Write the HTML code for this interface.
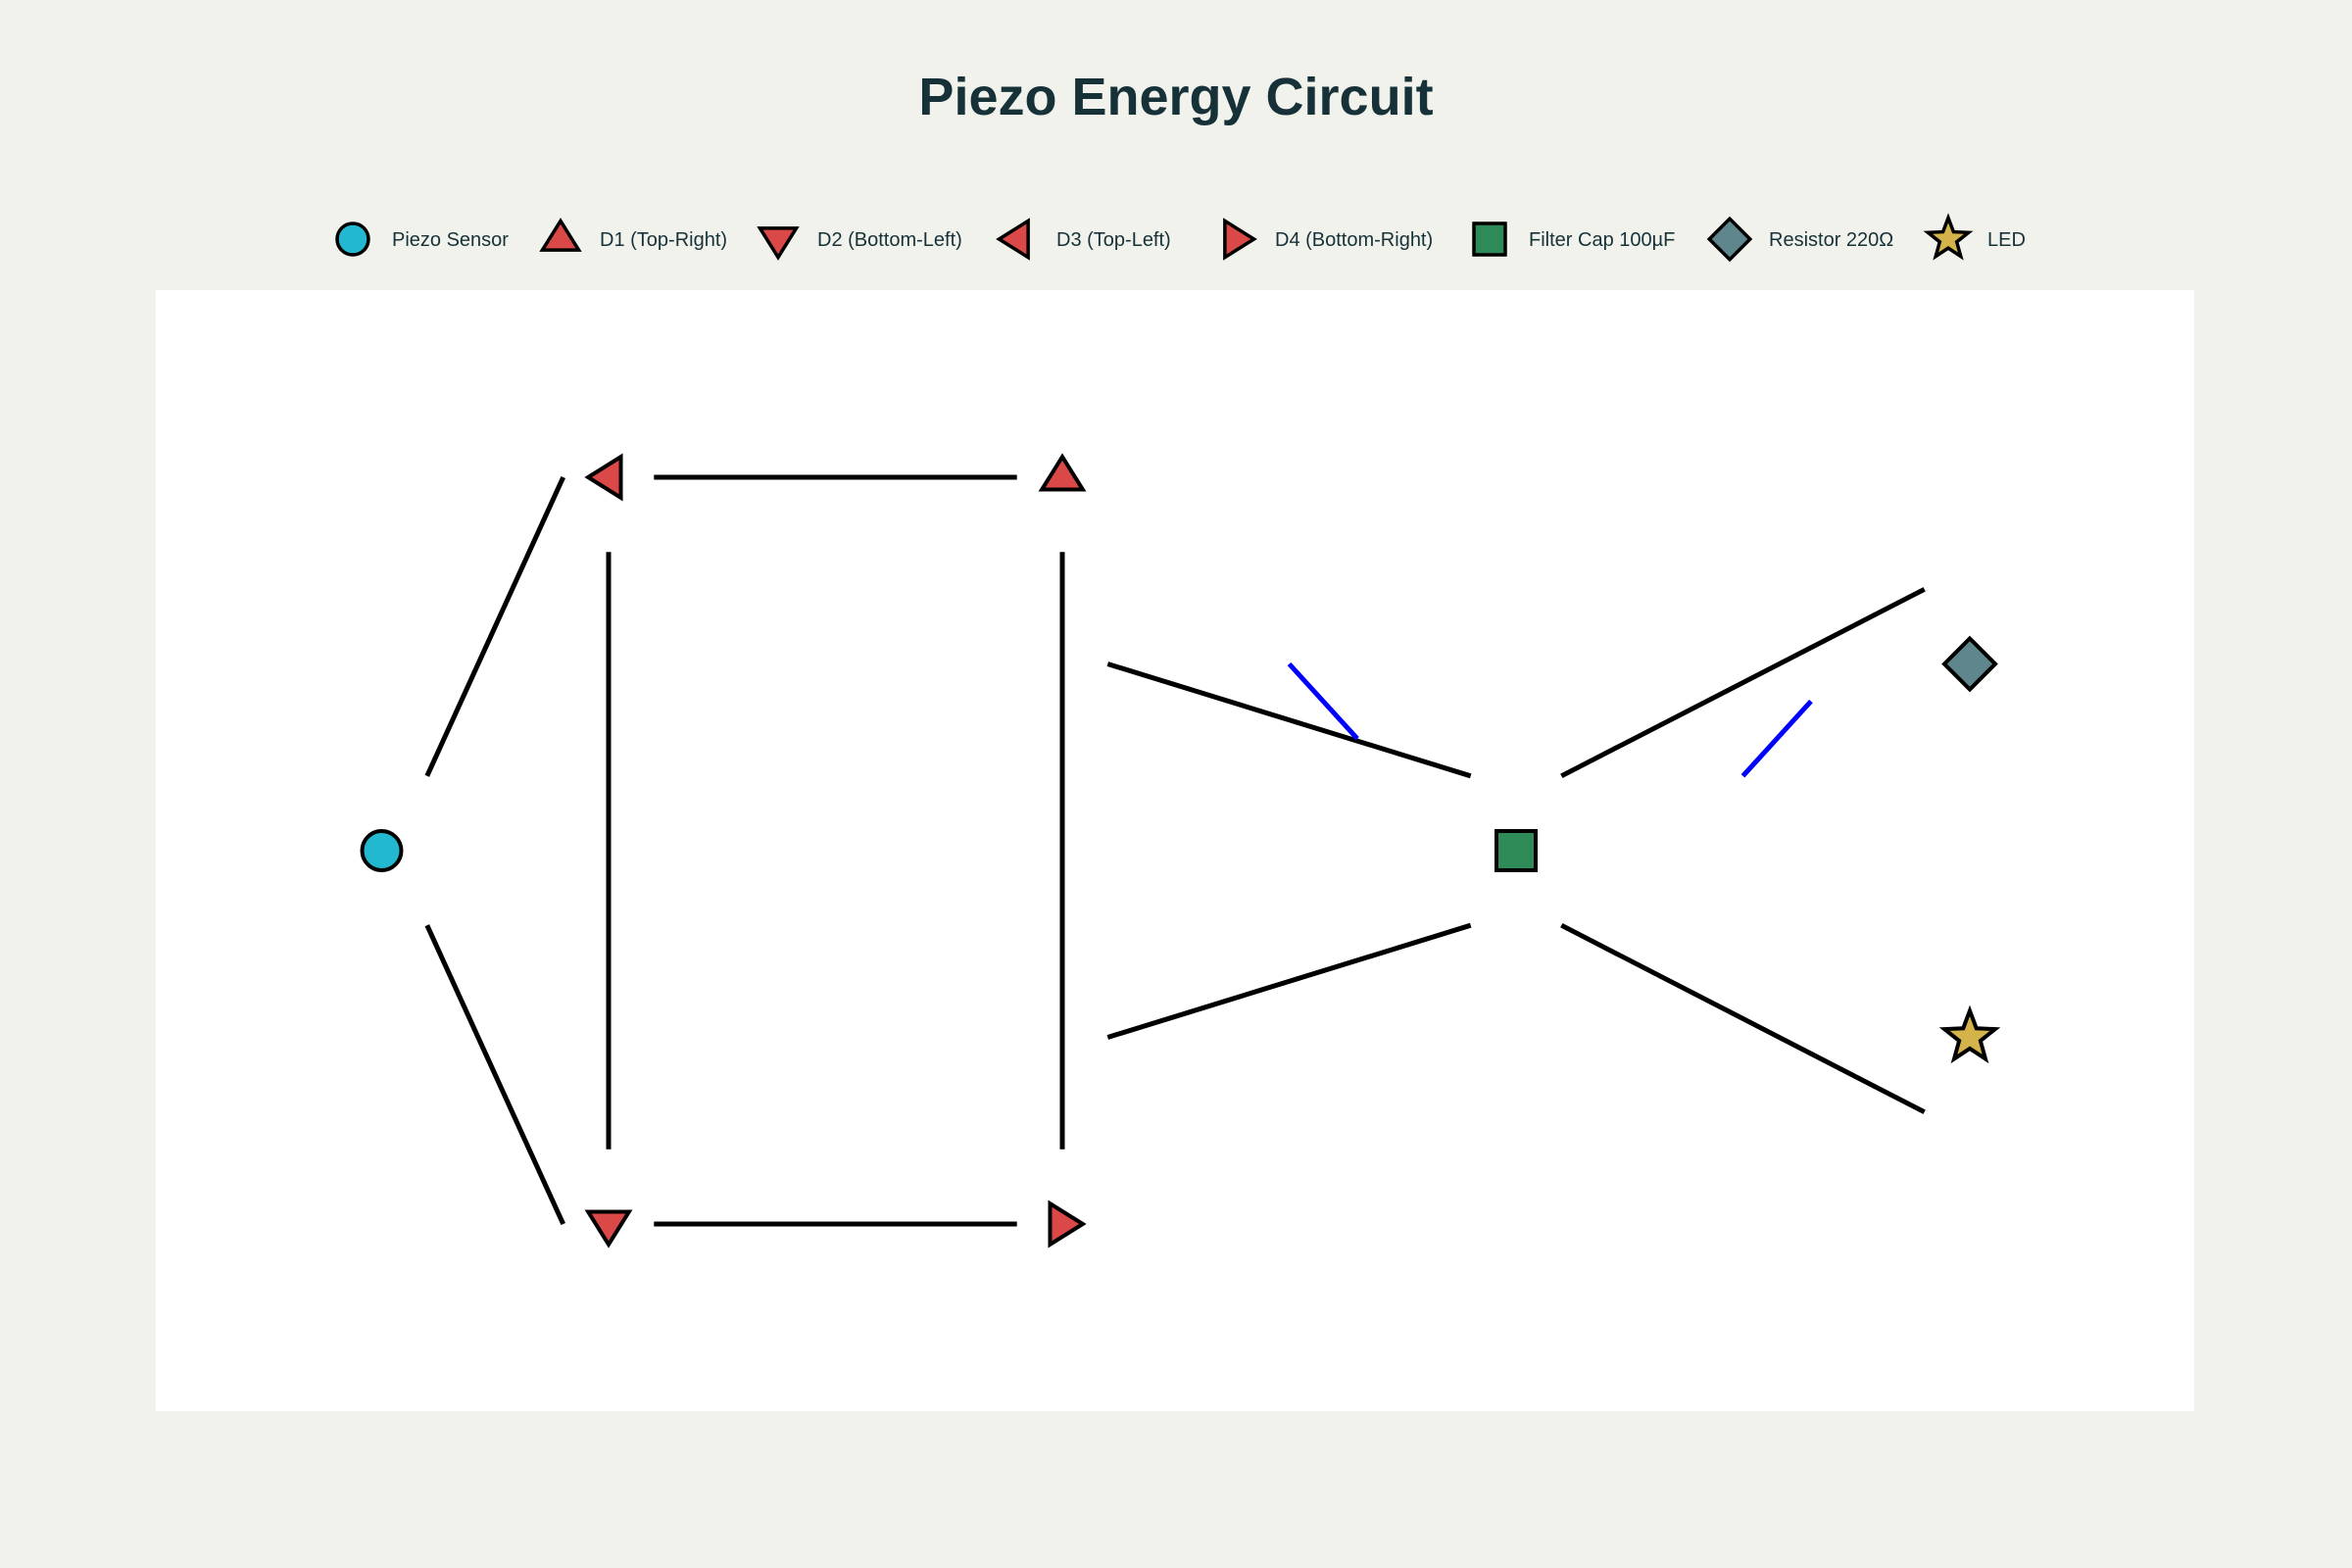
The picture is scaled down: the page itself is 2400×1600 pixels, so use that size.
<!DOCTYPE html>
<html><head><meta charset="utf-8"><style>
html,body{margin:0;padding:0;background:#f2f2ed;}
svg{display:block;}
text{font-family:"Liberation Sans",sans-serif;}
</style></head><body>
<svg id="chart" width="2400" height="1600" viewBox="0 0 2400 1600" xmlns="http://www.w3.org/2000/svg">
<rect x="0" y="0" width="2400" height="1600" fill="#f2f2ed"/>
<text x="1200" y="117" text-anchor="middle" font-size="54" font-weight="bold" fill="#163238">Piezo Energy Circuit</text>
<g id="legend"></g>
<rect x="159" y="296" width="2080" height="1144" fill="#ffffff"/>
<g id="edges"></g>
<g id="nodes"></g>
</svg>
<script>
// node data (data units)
const nodeNames = ["Piezo Sensor","D1 (Top-Right)","D2 (Bottom-Left)","D3 (Top-Left)","D4 (Bottom-Right)","Filter Cap 100µF","Resistor 220Ω","LED"];
const nodeX = [0.5, 2, 1, 1, 2, 3, 4, 4];
const nodeY = [0, 1, -1, 1, -1, 0, 0.5, -0.5];
const nodeSymbols = ["circle","tri-up","tri-down","tri-left","tri-right","square","diamond","star"];
const nodeColors = ["#22b8cf","#db4848","#db4848","#db4848","#db4848","#2e8b57","#5f868c","#d4b44a"];
// wire segments (data units)
const wireX0 = [0.6, 0.6, 1.1, 1.1, 1, 2, 2.1, 2.1, 3.1, 3.1];
const wireY0 = [0.2, -0.2, 1, -1, 0.8, 0.8, 0.5, -0.5, 0.2, -0.2];
const wireX1 = [0.9, 0.9, 1.9, 1.9, 1, 2, 2.9, 2.9, 3.9, 3.9];
const wireY1 = [1, -1, 1, -1, -0.8, -0.8, 0.2, -0.2, 0.7, -0.7];
// current-flow arrows (blue)
const flowX0 = [2.5, 3.5];
const flowY0 = [0.5, 0.2];
const flowX1 = [2.65, 3.65];
const flowY1 = [0.3, 0.4];

const xs = v => 158 + v * 463;
const ys = v => 868 - v * 381;
const NS = "http://www.w3.org/2000/svg";

function shape(sym, cx, cy, s, color) {
  let el;
  const h = s / 2;
  if (sym === "circle") {
    el = document.createElementNS(NS, "circle");
    el.setAttribute("cx", cx); el.setAttribute("cy", cy); el.setAttribute("r", h);
  } else if (sym === "square") {
    el = document.createElementNS(NS, "rect");
    el.setAttribute("x", cx - h); el.setAttribute("y", cy - h);
    el.setAttribute("width", s); el.setAttribute("height", s);
  } else {
    let pts;
    const t = s * 0.58;
    if (sym === "tri-up") pts = [[cx, cy - t], [cx + t, cy + t * 0.6], [cx - t, cy + t * 0.6]];
    else if (sym === "tri-down") pts = [[cx, cy + t], [cx + t, cy - t * 0.6], [cx - t, cy - t * 0.6]];
    else if (sym === "tri-left") pts = [[cx - t, cy], [cx + t * 0.6, cy - t], [cx + t * 0.6, cy + t]];
    else if (sym === "tri-right") pts = [[cx + t, cy], [cx - t * 0.6, cy - t], [cx - t * 0.6, cy + t]];
    else if (sym === "diamond") { const d = s * 0.65; pts = [[cx, cy - d], [cx + d, cy], [cx, cy + d], [cx - d, cy]]; }
    else if (sym === "star") {
      pts = [];
      const R = s * 0.68, r = R * 0.42;
      for (let i = 0; i < 10; i++) {
        const a = -Math.PI / 2 + i * Math.PI / 5;
        const rr = i % 2 ? r : R;
        pts.push([cx + rr * Math.cos(a), cy + rr * Math.sin(a)]);
      }
    }
    el = document.createElementNS(NS, "polygon");
    el.setAttribute("points", pts.map(p => p.join(",")).join(" "));
  }
  el.setAttribute("fill", color);
  el.setAttribute("stroke", "#000");
  el.setAttribute("stroke-width", "4");
  el.setAttribute("stroke-linejoin", "miter");
  return el;
}

const edges = document.getElementById("edges");
for (let i = 0; i < wireX0.length; i++) {
  const l = document.createElementNS(NS, "line");
  l.setAttribute("x1", xs(wireX0[i])); l.setAttribute("y1", ys(wireY0[i]));
  l.setAttribute("x2", xs(wireX1[i])); l.setAttribute("y2", ys(wireY1[i]));
  l.setAttribute("stroke", "#000"); l.setAttribute("stroke-width", "5");
  
  
  edges.appendChild(l);
}
for (let i = 0; i < flowX0.length; i++) {
  const l = document.createElementNS(NS, "line");
  l.setAttribute("x1", xs(flowX0[i])); l.setAttribute("y1", ys(flowY0[i]));
  l.setAttribute("x2", xs(flowX1[i])); l.setAttribute("y2", ys(flowY1[i]));
  l.setAttribute("stroke", "#0000ff"); l.setAttribute("stroke-width", "5");
  
  
  edges.appendChild(l);
}

const nodes = document.getElementById("nodes");
for (let i = 0; i < nodeX.length; i++) {
  const sz = nodeSymbols[i].startsWith("tri") ? 36 : 40;
  const el = shape(nodeSymbols[i], xs(nodeX[i]), ys(nodeY[i]), sz, nodeColors[i]);
  
  
  nodes.appendChild(el);
}

// legend
const legendMarkerX = [360, 572, 794, 1038, 1261, 1520, 1765, 1988];
const legend = document.getElementById("legend");
for (let i = 0; i < nodeNames.length; i++) {
  const g = document.createElementNS(NS, "g");
  
  
  const m = shape(nodeSymbols[i], legendMarkerX[i], 244, 32, nodeColors[i]);
  m.setAttribute("stroke-width", "3.5");
  g.appendChild(m);
  const t = document.createElementNS(NS, "text");
  t.setAttribute("x", legendMarkerX[i] + 40);
  t.setAttribute("y", 251);
  t.setAttribute("font-size", "20");
  t.setAttribute("fill", "#163238");
  t.textContent = nodeNames[i];
  g.appendChild(t);
  legend.appendChild(g);
}
</script>
</body></html>
